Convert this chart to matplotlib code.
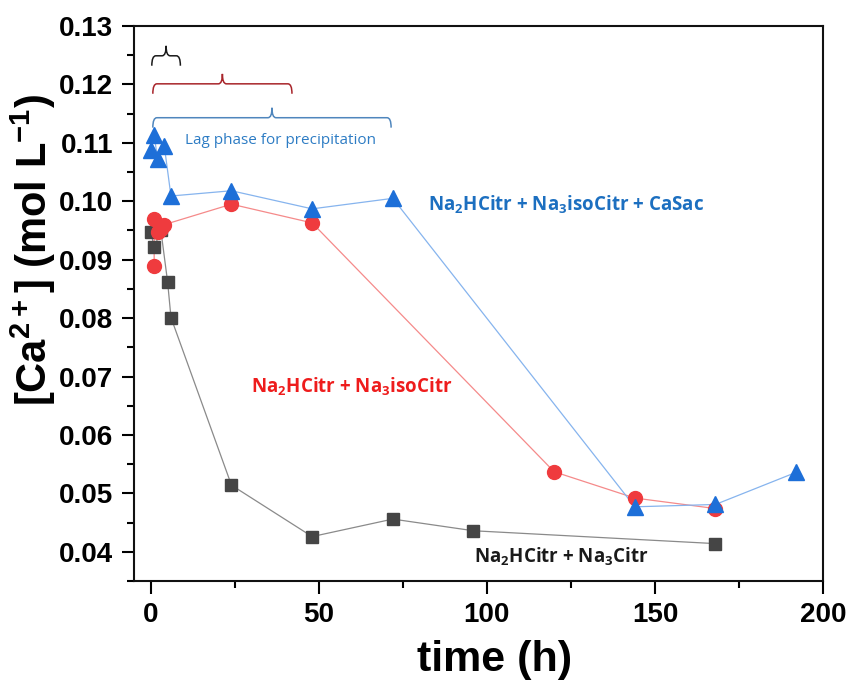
import numpy as np
import matplotlib
matplotlib.use("Agg")
import matplotlib.pyplot as plt
from matplotlib.path import Path
from matplotlib.patches import PathPatch
from matplotlib.ticker import MultipleLocator

plt.rcParams['font.family'] = ['Liberation Sans', 'DejaVu Sans']
plt.rcParams['mathtext.default'] = 'regular'

# Na2HCitr + Na3Citr
t_citr = [0, 1, 3, 5, 6, 24, 48, 72, 96, 168]
ca_citr = [0.0948, 0.0921, 0.0950, 0.0862, 0.0801, 0.0514, 0.0426, 0.0456, 0.0436, 0.0414]

# Na2HCitr + Na3isoCitr
t_iso = [1, 1, 2, 3, 4, 24, 48, 120, 144, 168]
ca_iso = [0.0890, 0.0969, 0.0947, 0.0952, 0.0960, 0.0995, 0.0963, 0.0537, 0.0492, 0.0474]

# Na2HCitr + Na3isoCitr + CaSac
t_sac = [0, 1, 2, 4, 6, 24, 48, 72, 144, 168, 192]
ca_sac = [0.1087, 0.1113, 0.1073, 0.1095, 0.1009, 0.1018, 0.0987, 0.1005, 0.0477, 0.0481, 0.0536]

# lag phase braces: start, end, baseline level
brace_start = [0.3, 0.6, 0.6]
brace_end = [8.8, 42.0, 71.5]
brace_y = [0.1249, 0.1201, 0.1143]
brace_colors = ['#1a1a1a', '#a8242a', '#4f86bd']

fig = plt.figure(figsize=(8.47, 6.84), dpi=100)
ax = fig.add_axes([134 / 847, 1 - 581 / 684, (823 - 134) / 847, (581 - 26) / 684])

ax.plot(t_citr, ca_citr, color='#8a8a8a', lw=0.9, zorder=2)
ax.plot(t_citr, ca_citr, ls='none', marker='s', ms=8.5, color='#454545', zorder=3)
ax.plot(t_iso, ca_iso, color='#f58a8a', lw=0.9, zorder=2)
ax.plot(t_iso, ca_iso, ls='none', marker='o', ms=10, color='#ef3b3e', zorder=4)
ax.plot(t_sac, ca_sac, color='#86b4ee', lw=0.9, zorder=2)
ax.plot(t_sac, ca_sac, ls='none', marker='^', ms=11.5, color='#1d6fd8', zorder=5)


def brace(x0, x1, y, color, hook=0.0017, tip=0.0017, r=1.2):
    xm = (x0 + x1) / 2
    verts = [(x0, y - hook), (x0, y), (x0 + r, y),
             (xm - r, y), (xm, y), (xm, y + tip),
             (xm, y), (xm + r, y),
             (x1 - r, y), (x1, y), (x1, y - hook)]
    codes = [Path.MOVETO, Path.CURVE3, Path.CURVE3,
             Path.LINETO, Path.CURVE3, Path.CURVE3,
             Path.CURVE3, Path.CURVE3,
             Path.LINETO, Path.CURVE3, Path.CURVE3]
    ax.add_patch(PathPatch(Path(verts, codes), fill=False, ec=color, lw=1.1,
                           clip_on=False))


for x0, x1, y, c in zip(brace_start, brace_end, brace_y, brace_colors):
    brace(x0, x1, y, c)

tfont = ['Open Sans', 'DejaVu Sans']
ax.text(10.1, 0.1104, 'Lag phase for precipitation', color='#2d7cc4',
        fontsize=11, family=tfont, va='center')
ax.text(82.4, 0.0994, r'Na$_2$HCitr + Na$_3$isoCitr + CaSac', color='#1c6fc0',
        fontsize=13.5, fontweight='bold', family=tfont, va='center')
ax.text(29.8, 0.0682, r'Na$_2$HCitr + Na$_3$isoCitr', color='#ee1c1c',
        fontsize=13.5, fontweight='bold', family=tfont, va='center')
ax.text(96.1, 0.0391, r'Na$_2$HCitr + Na$_3$Citr', color='#1a1a1a',
        fontsize=13.5, fontweight='bold', family=tfont, va='center')

ax.set_xlim(-5, 200)
ax.set_ylim(0.035, 0.13)
ax.xaxis.set_major_locator(MultipleLocator(50))
ax.xaxis.set_minor_locator(MultipleLocator(25))
ax.yaxis.set_major_locator(MultipleLocator(0.01))
ax.yaxis.set_minor_locator(MultipleLocator(0.005))
ax.yaxis.set_major_formatter(lambda v, p: f'{v:.2f}')
ax.tick_params(which='both', direction='out', width=1.5, top=False, right=False)
ax.tick_params(which='major', length=9, labelsize=20, pad=6)
ax.tick_params(which='minor', length=5)
for lab in ax.get_xticklabels() + ax.get_yticklabels():
    lab.set_fontweight('bold')
for s in ax.spines.values():
    s.set_linewidth(1.5)
    s.set_color('#111111')

ax.set_xlabel('time (h)', fontsize=31, fontweight='bold', labelpad=5)
ax.xaxis.set_label_coords((495 - 134) / 689, -(640 - 581) / 555, transform=ax.transAxes)
ax.xaxis.label.set_va('top')
ax.set_ylabel(r'[Ca$^{2+}$] (mol L$^{-1}$)', fontsize=30, fontweight='bold')
ax.yaxis.set_label_coords(-(134 - 58) / 689, (581 - 250) / 555, transform=ax.transAxes)

fig.savefig('out.png', dpi=100)
